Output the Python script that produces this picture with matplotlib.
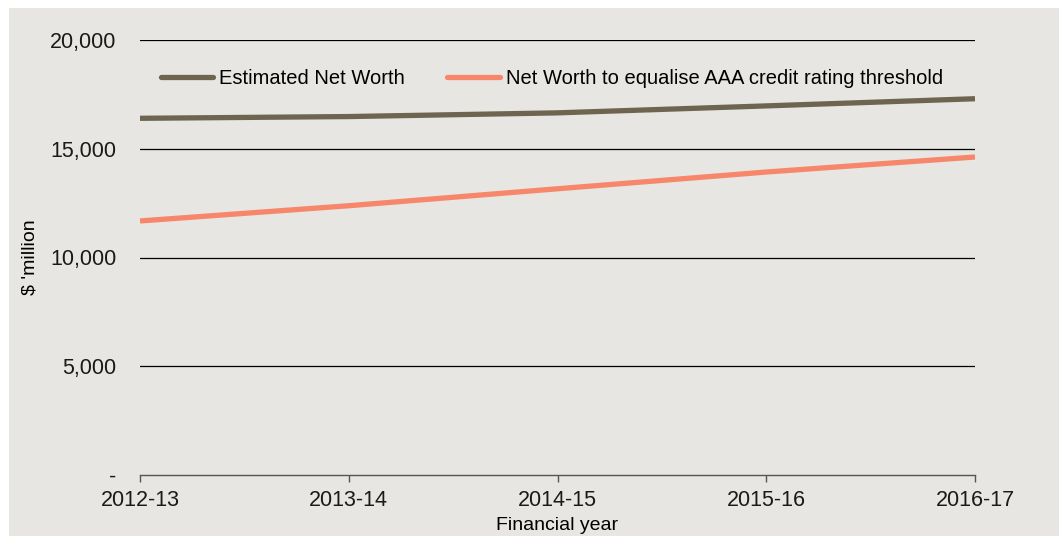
import matplotlib.pyplot as plt
from matplotlib.patches import Rectangle
from matplotlib.ticker import FuncFormatter

years = ["2012-13", "2013-14", "2014-15", "2015-16", "2016-17"]
net_worth = [16400, 16480, 16650, 16970, 17300]
aaa_threshold = [11680, 12380, 13160, 13930, 14620]

bg = "#E8E6E2"
plt.rcParams['font.family'] = ['Liberation Sans', 'DejaVu Sans']

fig = plt.figure(figsize=(10.59, 5.36), dpi=100)
fig.patch.set_facecolor("white")
# grey panel, leaving a thin white margin top and left
fig.patches.append(Rectangle((9 / 1059, -0.1), 1.2, 1.1 - 8 / 536, transform=fig.transFigure,
                             facecolor=bg, edgecolor="none", zorder=-10))

ax = fig.add_axes([140 / 1059, 1 - 475 / 536, (975 - 140) / 1059, (475 - 40) / 536])
ax.patch.set_visible(False)

x = list(range(len(years)))
ax.plot(x, net_worth, color="#6E6550", lw=3.8, solid_capstyle="butt",
        label="Estimated Net Worth", zorder=3)
ax.plot(x, aaa_threshold, color="#F6876A", lw=3.8, solid_capstyle="butt",
        label="Net Worth to equalise AAA credit rating threshold", zorder=3)

ax.set_xlim(0, len(years) - 1)
ax.set_ylim(0, 20000)
ax.set_yticks([0, 5000, 10000, 15000, 20000])
ax.yaxis.set_major_formatter(FuncFormatter(lambda v, p: "-" if v == 0 else f"{int(v):,}"))
ax.set_xticks(x)
ax.set_xticklabels(years)

for y in [5000, 10000, 15000, 20000]:
    ax.axhline(y, color="black", lw=0.9, zorder=1)

for s in ["top", "right", "left"]:
    ax.spines[s].set_visible(False)
ax.spines["bottom"].set_color("#555555")
ax.spines["bottom"].set_linewidth(1.0)

ax.tick_params(axis="y", length=0, pad=17, labelsize=15.5, colors="#1a1a1a")
ax.tick_params(axis="x", length=5, width=1, color="#555555", pad=6, labelsize=15.5,
               labelcolor="#1a1a1a")

ax.set_ylabel("$ 'million", fontsize=14, labelpad=8)
ax.set_xlabel("Financial year", fontsize=14, labelpad=4)

leg = ax.legend(loc="upper left", bbox_to_anchor=(0.008, 0.965), ncol=2, frameon=False,
                fontsize=14.5, handlelength=2.6, handletextpad=0.3, columnspacing=2.1,
                borderaxespad=0.3)
for h in leg.get_lines():
    h.set_solid_capstyle("round")

fig.savefig("out.png", dpi=100, facecolor=fig.get_facecolor())
